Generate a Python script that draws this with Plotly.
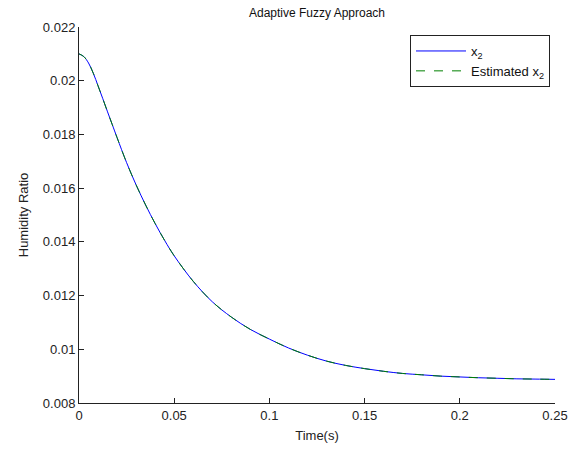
import plotly.graph_objects as go

# Time samples (s)
t = [0, 0.0025, 0.005, 0.0075, 0.01, 0.0125, 0.015, 0.0175, 0.02, 0.025, 0.03,
     0.035, 0.04, 0.045, 0.05, 0.06, 0.07, 0.08, 0.09, 0.1, 0.11, 0.12, 0.13,
     0.14, 0.15, 0.16, 0.17, 0.18, 0.19, 0.2, 0.21, 0.22, 0.23, 0.24, 0.25]

# Humidity ratio x2
x2 = [0.02100, 0.02090, 0.02066, 0.02028, 0.01981, 0.01933, 0.01884, 0.01836,
      0.01788, 0.01695, 0.01612, 0.01537, 0.01468, 0.01405, 0.01348, 0.01253,
      0.01177, 0.01120, 0.01074, 0.01038, 0.01005, 0.00978, 0.00956, 0.00940,
      0.00928, 0.00918, 0.00910, 0.00905, 0.00900, 0.00897, 0.00894, 0.00892,
      0.00890, 0.00889, 0.00888]

# Estimated x2
x2_est = [0.02100, 0.02090, 0.02066, 0.02028, 0.01981, 0.01933, 0.01884, 0.01836,
          0.01788, 0.01695, 0.01612, 0.01537, 0.01468, 0.01405, 0.01348, 0.01253,
          0.01177, 0.01120, 0.01074, 0.01038, 0.01005, 0.00978, 0.00956, 0.00940,
          0.00928, 0.00918, 0.00910, 0.00905, 0.00900, 0.00897, 0.00894, 0.00892,
          0.00890, 0.00889, 0.00888]

x_ticks = [0, 0.05, 0.1, 0.15, 0.2, 0.25]
x_tick_labels = ["0", "0.05", "0.1", "0.15", "0.2", "0.25"]
y_ticks = [0.008, 0.010, 0.012, 0.014, 0.016, 0.018, 0.020, 0.022]
y_tick_labels = ["0.008", "0.01", "0.012", "0.014", "0.016", "0.018", "0.02", "0.022"]

font_family = "Liberation Sans, Arial, sans-serif"
axis_color = "#222222"

fig = go.Figure()
fig.add_trace(go.Scatter(
    x=t, y=x2, mode="lines", name="x<sub>2</sub>",
    line=dict(color="#0000ff", width=1, shape="spline"),
))
fig.add_trace(go.Scatter(
    x=t, y=x2_est, mode="lines", name="Estimated x<sub>2</sub>",
    line=dict(color="#008000", width=1, dash="dash", shape="spline"),
))

fig.update_layout(
    width=573, height=453,
    margin=dict(l=79, r=18, t=27, b=50),
    paper_bgcolor="white", plot_bgcolor="white",
    font=dict(family=font_family, size=13, color=axis_color),
    title=dict(text="Adaptive Fuzzy Approach", x=0.5, xref="paper",
               y=1 - 13 / 453, yref="container", yanchor="middle",
               font=dict(size=12, color="#111111")),
    showlegend=True,
    legend=dict(x=0.9895, xanchor="right", y=0.9787, yanchor="top",
                bgcolor="white", bordercolor=axis_color, borderwidth=1,
                itemwidth=50,
                font=dict(size=13, color="#111111")),
)
fig.update_xaxes(
    range=[0, 0.25], tickvals=x_ticks, ticktext=x_tick_labels,
    ticks="inside", ticklen=5, tickcolor=axis_color,
    showline=True, linecolor=axis_color, linewidth=1,
    showgrid=False, zeroline=False, automargin=False,
    title=dict(text="Time(s)", standoff=9, font=dict(size=13)),
)
fig.update_yaxes(
    range=[0.008, 0.022], tickvals=y_ticks, ticktext=y_tick_labels,
    ticks="inside", ticklen=5, tickcolor=axis_color,
    showline=True, linecolor=axis_color, linewidth=1,
    showgrid=False, zeroline=False, automargin=False,
    title=dict(text="Humidity Ratio", standoff=11, font=dict(size=13)),
)

fig.write_html("out.html")
